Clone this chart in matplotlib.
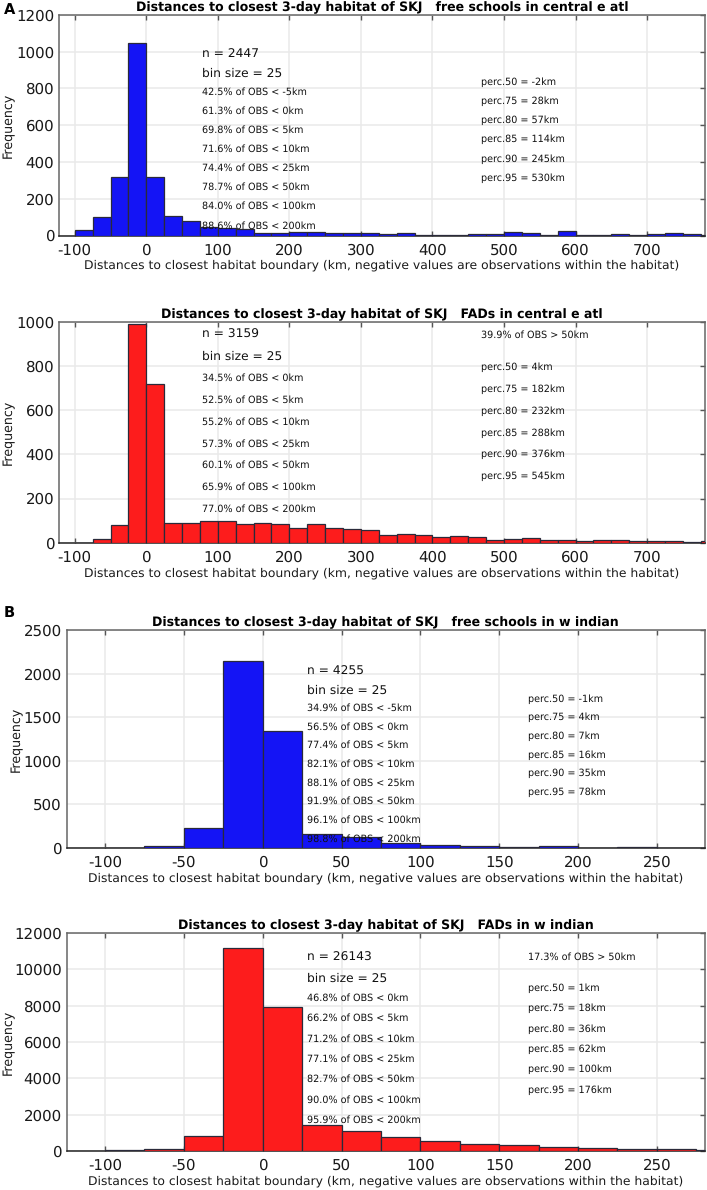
""" Distances to closest 3-day habitat of SKJ, four histograms
"""
import numpy as np
import matplotlib
matplotlib.use("Agg")
import matplotlib.pyplot as plt

plt.rcParams["axes.unicode_minus"] = False
plt.rcParams["text.hinting"] = "no_hinting"

W, H = 707, 1190

# counts per 25 km bin, first bin starts at -100
atl_free = [30, 100, 318, 1045, 318, 105, 78, 48, 40, 38, 15, 15, 18, 17, 12, 15, 12, 8,
            14, 2, 4, 2, 8, 10, 17, 14, 2, 22, 2, 4, 10, 1, 8, 14, 7, 2]
atl_fad = [0, 15, 82, 992, 718, 88, 87, 97, 98, 85, 88, 83, 65, 83, 68, 62, 58, 33,
           38, 34, 27, 32, 28, 13, 15, 20, 10, 14, 7, 14, 10, 6, 8, 7, 3, 8]
ind_free = [0, 20, 235, 2140, 1340, 160, 126, 57, 35, 20, 15, 25, 5, 12, 3, 0]
ind_fad = [30, 120, 850, 11200, 7950, 1440, 1120, 770, 550, 365, 310, 220, 165, 130, 110, 70]

titles = ["Distances to closest 3-day habitat of SKJ   free schools in central e atl",
          "Distances to closest 3-day habitat of SKJ   FADs in central e atl",
          "Distances to closest 3-day habitat of SKJ   free schools in w indian",
          "Distances to closest 3-day habitat of SKJ   FADs in w indian"]
xlabel = "Distances to closest habitat boundary (km, negative values are observations within the habitat)"

atl_free_n = ["n = 2447", "bin size = 25"]
atl_free_pct = ["42.5% of OBS < -5km", "61.3% of OBS < 0km", "69.8% of OBS < 5km", "71.6% of OBS < 10km",
                "74.4% of OBS < 25km", "78.7% of OBS < 50km", "84.0% of OBS < 100km", "88.6% of OBS < 200km"]
atl_free_perc = ["perc.50 = -2km", "perc.75 = 28km", "perc.80 = 57km",
                 "perc.85 = 114km", "perc.90 = 245km", "perc.95 = 530km"]

atl_fad_n = ["n = 3159", "bin size = 25"]
atl_fad_pct = ["34.5% of OBS < 0km", "52.5% of OBS < 5km", "55.2% of OBS < 10km", "57.3% of OBS < 25km",
               "60.1% of OBS < 50km", "65.9% of OBS < 100km", "77.0% of OBS < 200km"]
atl_fad_perc = ["perc.50 = 4km", "perc.75 = 182km", "perc.80 = 232km",
                "perc.85 = 288km", "perc.90 = 376km", "perc.95 = 545km"]

ind_free_n = ["n = 4255", "bin size = 25"]
ind_free_pct = ["34.9% of OBS < -5km", "56.5% of OBS < 0km", "77.4% of OBS < 5km", "82.1% of OBS < 10km",
                "88.1% of OBS < 25km", "91.9% of OBS < 50km", "96.1% of OBS < 100km", "98.8% of OBS < 200km"]
ind_free_perc = ["perc.50 = -1km", "perc.75 = 4km", "perc.80 = 7km",
                 "perc.85 = 16km", "perc.90 = 35km", "perc.95 = 78km"]

ind_fad_n = ["n = 26143", "bin size = 25"]
ind_fad_pct = ["46.8% of OBS < 0km", "66.2% of OBS < 5km", "71.2% of OBS < 10km", "77.1% of OBS < 25km",
               "82.7% of OBS < 50km", "90.0% of OBS < 100km", "95.9% of OBS < 200km"]
ind_fad_perc = ["perc.50 = 1km", "perc.75 = 18km", "perc.80 = 36km",
                "perc.85 = 62km", "perc.90 = 100km", "perc.95 = 176km"]

BLUE = "#1414f5"
RED = "#fd1c1c"
SMALL = 6.95
BIG = 8.8


def px_text(fig, x, y, s, size):
    # x, y in pixels from the top left of the picture
    fig.text(x / W, 1 - y / H, s, fontsize=size, va="center", ha="left", color="#111111", zorder=10)


def histogram(fig, box, counts, color, xlim, xticks, ylim, yticks, title, ylabel_x):
    left, top, right, bottom = box
    ax = fig.add_axes([left / W, 1 - bottom / H, (right - left) / W, (bottom - top) / H])
    edges = -100 + 25 * np.arange(len(counts))
    ax.bar(edges, counts, width=25, align="edge", color=color, edgecolor="#2a2a3a", linewidth=0.9, zorder=3)
    ax.set_xlim(*xlim)
    ax.set_ylim(*ylim)
    ax.set_xticks(xticks)
    ax.set_yticks(yticks)
    ax.grid(True, color="#e9e9e9", linewidth=1.1)
    ax.set_axisbelow(True)
    ax.tick_params(axis="both", direction="in", top=True, right=True, length=3.6, width=1,
                   color="#555555", labelsize=10.8, labelcolor="#1a1a1a")
    ax.tick_params(axis="x", pad=5.5)
    ax.tick_params(axis="y", pad=3.5, left=False)
    for spine in ax.spines.values():
        spine.set_color("#666666")
        spine.set_linewidth(1.1)
    ax.spines["bottom"].set_color("#222222")
    ax.set_title(title, fontsize=9.0, fontweight="bold", pad=3)
    ax.set_xlabel(xlabel, fontsize=8.95, labelpad=1.5, color="#1a1a1a")
    ax.set_ylabel("Frequency", fontsize=9.1, color="#1a1a1a")
    # label coordinate is the right edge of the rotated text
    ax.yaxis.set_label_coords((ylabel_x - left) / (right - left), 0.5)
    return ax


fig = plt.figure(figsize=(W / 100, H / 100), dpi=100)

atl_xticks = list(range(-100, 800, 100))
ind_xticks = list(range(-100, 300, 50))

histogram(fig, (59, 15, 705, 235.5), atl_free, BLUE, (-122, 781), atl_xticks,
          (0, 1200), range(0, 1201, 200), titles[0], 15)
histogram(fig, (59, 322, 705, 542.7), atl_fad, RED, (-122, 781), atl_xticks,
          (0, 1000), range(0, 1001, 200), titles[1], 15)
histogram(fig, (66.7, 630, 705, 848), ind_free, BLUE, (-124.3, 280.5), ind_xticks,
          (0, 2500), range(0, 2501, 500), titles[2], 23)
histogram(fig, (66.7, 933, 705, 1151), ind_fad, RED, (-124.3, 280.5), ind_xticks,
          (0, 12000), range(0, 12001, 2000), titles[3], 15)

# panel A, top
for i, s in enumerate(atl_free_n):
    px_text(fig, 202, 54 + 19.2 * i, s, BIG)
for i, s in enumerate(atl_free_pct):
    px_text(fig, 202, 92 + 19.1 * i, s, SMALL)
for i, s in enumerate(atl_free_perc):
    px_text(fig, 481, 82.3 + 19.1 * i, s, SMALL)

# panel A, bottom
for i, s in enumerate(atl_fad_n):
    px_text(fig, 202, 335 + 21.7 * i, s, BIG)
for i, s in enumerate(atl_fad_pct):
    px_text(fig, 202, 378 + 21.9 * i, s, SMALL)
px_text(fig, 481, 335, "39.9% of OBS > 50km", SMALL)
for i, s in enumerate(atl_fad_perc):
    px_text(fig, 481, 367 + 21.9 * i, s, SMALL)

# panel B, top
for i, s in enumerate(ind_free_n):
    px_text(fig, 306.7, 671.7 + 18.6 * i, s, BIG)
for i, s in enumerate(ind_free_pct):
    px_text(fig, 306.7, 708 + 18.7 * i, s, SMALL)
for i, s in enumerate(ind_free_perc):
    px_text(fig, 528, 699 + 18.6 * i, s, SMALL)

# panel B, bottom
for i, s in enumerate(ind_fad_n):
    px_text(fig, 306.7, 958 + 20.5 * i, s, BIG)
for i, s in enumerate(ind_fad_pct):
    px_text(fig, 306.7, 998 + 20.4 * i, s, SMALL)
px_text(fig, 528, 957, "17.3% of OBS > 50km", SMALL)
for i, s in enumerate(ind_fad_perc):
    px_text(fig, 528, 988 + 20.4 * i, s, SMALL)

fig.text(4 / W, 1 - 10 / H, "A", fontsize=10.5, fontweight="bold", va="center", ha="left")
fig.text(4 / W, 1 - 613 / H, "B", fontsize=10.5, fontweight="bold", va="center", ha="left")

fig.savefig("out.png", dpi=100)
